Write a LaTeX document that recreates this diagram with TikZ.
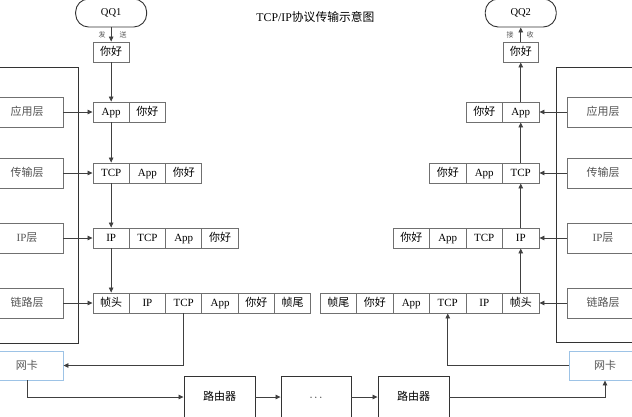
\documentclass[tikz,border=0pt]{standalone}
\usepackage{fontspec}
\setmainfont{Liberation Serif}
\newfontfamily\cjk{Noto Sans CJK SC}
\usetikzlibrary{arrows.meta}
\definecolor{lineC}{HTML}{404040}
\definecolor{boxC}{HTML}{707070}
\definecolor{nicC}{HTML}{9DC3E6}
\definecolor{txtC}{HTML}{555555}
\begin{document}
\begin{tikzpicture}[x=1pt,y=-1pt,
  cell/.style={draw=boxC, line width=0.9pt, minimum height=20pt, minimum width=#1, inner sep=0pt, text height=9.8pt, text depth=2pt, font=\fontsize{11}{13}\selectfont, text=black},
  cell/.default=36.3pt,
  rcell/.style={cell=36.5pt},
  layer/.style={draw=boxC, line width=0.9pt, minimum width=72pt, minimum height=30pt, inner sep=0pt, text height=9.8pt, text depth=2pt, text=txtC, font=\fontsize{11}{13}\selectfont},
  nic/.style={draw=nicC, line width=0.9pt, minimum width=72pt, minimum height=29pt, inner sep=0pt, text height=9.8pt, text depth=2pt, text=txtC, font=\fontsize{11}{13}\selectfont},
  router/.style={draw=black!80, line width=0.9pt, minimum width=71pt, minimum height=42pt, inner sep=0pt, text height=9.8pt, text depth=2pt, font=\fontsize{11}{13}\selectfont},
  qq/.style={draw=black!80, line width=0.9pt, minimum width=71pt, minimum height=28pt, rounded corners=13pt, inner sep=0pt, font=\fontsize{10.5}{12}\selectfont},
  small/.style={font=\fontsize{7}{8}\selectfont, text=txtC, inner sep=0pt},
  conn/.style={draw=lineC, line width=0.8pt, -{Triangle[length=5pt,width=4.5pt]}},
  frame/.style={draw=black!80, line width=0.9pt}
]
\clip (0,0) rectangle (632,416);
\fill[white] (0,0) rectangle (632,416);

% title
\node[font=\fontsize{11.8}{14}\selectfont] (title) at (315.5,17) {TCP/IP{\cjk 协议传输示意图}};

% frames
\draw[frame] (-5,67) rectangle (78,343);
\draw[frame] (556,67) rectangle (645,342);

% QQ and messages
\node[qq] (qq1) at (111.15,13) {QQ1};
\node[qq] (qq2) at (520.75,13) {QQ2};
\node[small] (fa) at (102,35) {\cjk 发};
\node[small] (song) at (123,35) {\cjk 送};
\node[small] (jie) at (510,35) {\cjk 接};
\node[small] (shou) at (530,35) {\cjk 收};
\node[cell] (lmsg) at (111.15,52) {\cjk 你好};
\node[cell=35pt] (rmsg) at (520.75,52) {\cjk 你好};

% left layer boxes
\node[layer] (lay1) at (27,112) {\cjk 应用层};
\node[layer] (lay2) at (27,173) {\cjk 传输层};
\node[layer] (lay3) at (27,238) {IP{\cjk 层}};
\node[layer] (lay4) at (27,303) {\cjk 链路层};
\node[nic] (nicL) at (27,365.5) {\cjk 网卡};

% right layer boxes
\node[layer] (ray1) at (603,112) {\cjk 应用层};
\node[layer] (ray2) at (603,173) {\cjk 传输层};
\node[layer] (ray3) at (603,238) {IP{\cjk 层}};
\node[layer] (ray4) at (603,303) {\cjk 链路层};
\node[nic] (nicR) at (605,365.5) {\cjk 网卡};

% left rows
\node[cell] (l1a) at (111.15,112) {App};
\node[cell] (l1b) at (147.45,112) {\cjk 你好};

\node[cell] (l2a) at (111.15,173) {TCP};
\node[cell] (l2b) at (147.45,173) {App};
\node[cell] (l2c) at (183.75,173) {\cjk 你好};

\node[cell] (l3a) at (111.15,238) {IP};
\node[cell] (l3b) at (147.45,238) {TCP};
\node[cell] (l3c) at (183.75,238) {App};
\node[cell] (l3d) at (220.05,238) {\cjk 你好};

\node[cell] (l4a) at (111.15,303) {\cjk 帧头};
\node[cell] (l4b) at (147.45,303) {IP};
\node[cell] (l4c) at (183.75,303) {TCP};
\node[cell] (l4d) at (220.05,303) {App};
\node[cell] (l4e) at (256.35,303) {\cjk 你好};
\node[cell] (l4f) at (292.65,303) {\cjk 帧尾};

% right rows
\node[rcell] (r1a) at (520.75,112) {App};
\node[rcell] (r1b) at (484.25,112) {\cjk 你好};

\node[rcell] (r2a) at (520.75,173) {TCP};
\node[rcell] (r2b) at (484.25,173) {App};
\node[rcell] (r2c) at (447.75,173) {\cjk 你好};

\node[rcell] (r3a) at (520.75,238) {IP};
\node[rcell] (r3b) at (484.25,238) {TCP};
\node[rcell] (r3c) at (447.75,238) {App};
\node[rcell] (r3d) at (411.25,238) {\cjk 你好};

\node[rcell] (r4a) at (520.75,303) {\cjk 帧头};
\node[rcell] (r4b) at (484.25,303) {IP};
\node[rcell] (r4c) at (447.75,303) {TCP};
\node[rcell] (r4d) at (411.25,303) {App};
\node[rcell] (r4e) at (374.75,303) {\cjk 你好};
\node[rcell] (r4f) at (338.25,303) {\cjk 帧尾};

% routers
\node[router] (rt1) at (219.5,397) {\cjk 路由器};
\node[router, minimum width=70pt] (dots) at (316,397) {$\cdots$};
\node[router] (rt2) at (413.5,397) {\cjk 路由器};

% left connectors
\draw[conn] (qq1.south) -- (lmsg.north);
\draw[conn] (lmsg.south) -- (l1a.north);
\draw[conn] (l1a.south) -- (l2a.north);
\draw[conn] (l2a.south) -- (l3a.north);
\draw[conn] (l3a.south) -- (l4a.north);
\draw[conn] (lay1.east) -- (l1a.west);
\draw[conn] (lay2.east) -- (l2a.west);
\draw[conn] (lay3.east) -- (l3a.west);
\draw[conn] (lay4.east) -- (l4a.west);
\draw[conn] (l4c.south) |- (nicL.east);
\draw[conn] (nicL.south) |- (rt1.west);

% middle
\draw[conn] (rt1.east) -- (dots.west);
\draw[conn] (dots.east) -- (rt2.west);
\draw[conn] (rt2.east) -| (nicR.south);

% right connectors
\draw[conn] (nicR.west) -| (r4c.south);
\draw[conn] (r4a.north) -- (r3a.south);
\draw[conn] (r3a.north) -- (r2a.south);
\draw[conn] (r2a.north) -- (r1a.south);
\draw[conn] (r1a.north) -- (rmsg.south);
\draw[conn] (rmsg.north) -- (qq2.south);
\draw[conn] (ray1.west) -- (r1a.east);
\draw[conn] (ray2.west) -- (r2a.east);
\draw[conn] (ray3.west) -- (r3a.east);
\draw[conn] (ray4.west) -- (r4a.east);
\end{tikzpicture}
\end{document}
